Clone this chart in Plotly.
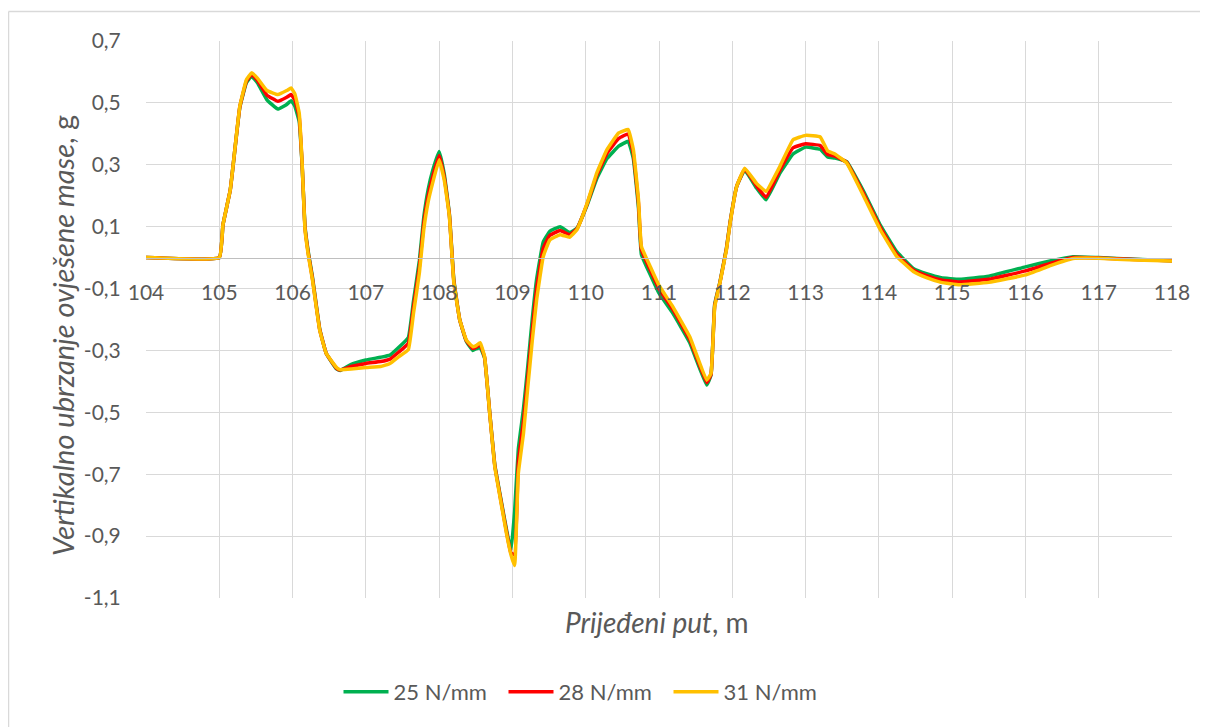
import plotly.graph_objects as go

# Travelled distance, m
x_m = [104.0, 105.0, 105.05, 105.15, 105.28, 105.37, 105.44, 105.52, 105.65, 105.8,
       105.92, 105.98, 106.03, 106.09, 106.13, 106.17, 106.22, 106.27, 106.37, 106.46,
       106.6, 106.65, 106.8, 107.0, 107.2, 107.33, 107.45, 107.58, 107.65, 107.73,
       107.79, 107.85, 107.91, 108.0, 108.07, 108.14, 108.2, 108.28, 108.37, 108.46,
       108.5, 108.56, 108.62, 108.69, 108.76, 108.85, 108.92, 108.98, 109.03, 109.08,
       109.15, 109.21, 109.27, 109.33, 109.42, 109.51, 109.65, 109.78, 109.88, 110.02,
       110.15, 110.29, 110.45, 110.58, 110.65, 110.72, 110.76, 110.88, 111.0, 111.19,
       111.42, 111.65, 111.71, 111.76, 111.83, 111.92, 111.97, 112.06, 112.17, 112.33,
       112.46, 112.65, 112.83, 113.0, 113.2, 113.3, 113.4, 113.56, 113.79, 114.02,
       114.24, 114.47, 114.65, 114.85, 115.1, 115.5, 116.0, 116.35, 116.65, 117.0,
       117.5, 118.0]

acc_25 = [0.0, 0.0, 0.106, 0.219, 0.485, 0.565, 0.586, 0.565, 0.51, 0.48,
          0.495, 0.507, 0.49, 0.44, 0.3, 0.1, 0.01, -0.06, -0.23, -0.31,
          -0.36, -0.365, -0.345, -0.331, -0.322, -0.315, -0.29, -0.258, -0.14, -0.01,
          0.13, 0.22, 0.28, 0.343, 0.27, 0.14, -0.07, -0.2, -0.27, -0.3,
          -0.295, -0.29, -0.325, -0.5, -0.67, -0.79, -0.88, -0.947, -0.82, -0.62,
          -0.49, -0.35, -0.2, -0.07, 0.05, 0.085, 0.1, 0.081, 0.095, 0.17,
          0.255, 0.32, 0.36, 0.376, 0.32, 0.16, 0.01, -0.055, -0.115, -0.18,
          -0.275, -0.412, -0.38, -0.15, -0.08, 0.03, 0.115, 0.23, 0.283, 0.225,
          0.187, 0.273, 0.335, 0.357, 0.35, 0.325, 0.322, 0.31, 0.215, 0.105,
          0.02, -0.035, -0.052, -0.065, -0.07, -0.06, -0.03, -0.01, 0.003, 0.0,
          -0.005, -0.01]

acc_28 = [0.0, 0.0, 0.106, 0.219, 0.487, 0.57, 0.592, 0.573, 0.525, 0.505,
          0.518, 0.527, 0.51, 0.455, 0.303, 0.095, 0.005, -0.065, -0.232, -0.31,
          -0.358, -0.363, -0.352, -0.342, -0.336, -0.328, -0.305, -0.277, -0.16, -0.03,
          0.11, 0.2, 0.26, 0.33, 0.26, 0.137, -0.075, -0.2, -0.268, -0.294,
          -0.29, -0.282, -0.322, -0.502, -0.673, -0.795, -0.887, -0.955, -0.96, -0.66,
          -0.53, -0.385, -0.235, -0.1, 0.03, 0.072, 0.088, 0.074, 0.093, 0.174,
          0.265, 0.337, 0.385, 0.4, 0.335, 0.175, 0.025, -0.04, -0.1, -0.168,
          -0.265, -0.404, -0.378, -0.155, -0.082, 0.028, 0.113, 0.23, 0.286, 0.232,
          0.195, 0.283, 0.355, 0.368, 0.362, 0.333, 0.328, 0.308, 0.208, 0.098,
          0.012, -0.04, -0.058, -0.072, -0.079, -0.07, -0.043, -0.018, 0.0, -0.001,
          -0.006, -0.01]

acc_31 = [0.0, 0.0, 0.106, 0.219, 0.489, 0.575, 0.597, 0.58, 0.54, 0.527,
          0.54, 0.548, 0.53, 0.468, 0.306, 0.09, 0.0, -0.07, -0.234, -0.31,
          -0.355, -0.362, -0.36, -0.355, -0.352, -0.342, -0.32, -0.297, -0.18, -0.05,
          0.09, 0.18, 0.24, 0.316, 0.25, 0.133, -0.08, -0.2, -0.266, -0.288,
          -0.285, -0.275, -0.32, -0.504, -0.677, -0.8, -0.893, -0.96, -0.995, -0.698,
          -0.569, -0.418, -0.27, -0.137, 0.003, 0.057, 0.074, 0.066, 0.09, 0.176,
          0.273, 0.349, 0.403, 0.414, 0.349, 0.187, 0.036, -0.029, -0.09, -0.159,
          -0.256, -0.396, -0.374, -0.159, -0.083, 0.025, 0.111, 0.23, 0.289, 0.24,
          0.214, 0.295, 0.381, 0.395, 0.39, 0.345, 0.335, 0.306, 0.2, 0.09,
          0.005, -0.045, -0.065, -0.08, -0.088, -0.08, -0.056, -0.025, -0.003, -0.002,
          -0.008, -0.011]

series_names = ["25 N/mm", "28 N/mm", "31 N/mm"]
series_colors = ["#00B050", "#FF0000", "#FFC000"]

y_tickvals = [0.7, 0.5, 0.3, 0.1, -0.1, -0.3, -0.5, -0.7, -0.9, -1.1]
y_ticktext = ["0,7", "0,5", "0,3", "0,1", "-0,1", "-0,3", "-0,5", "-0,7", "-0,9", "-1,1"]
x_tickvals = list(range(104, 119))
x_ticktext = [str(v) for v in x_tickvals]

assert len(x_m) == len(acc_25) == len(acc_28) == len(acc_31)

# page is offset by the default 8px body margin
OFF = 8
W, H = 1208 - OFF, 727 - OFF
L, T = 146 - OFF, 41 - OFF
R, B = 36, 129
pw, ph = W - L - R, H - T - B

def px(xp):  # page pixel -> paper
    return (xp - OFF - L) / pw

def py(yp):
    return (H - B - (yp - OFF)) / ph

fig = go.Figure()
for name, color, ys in zip(series_names, series_colors, [acc_25, acc_28, acc_31]):
    fig.add_trace(go.Scatter(x=x_m, y=ys, mode="lines", name=name,
                             line=dict(color=color, width=3.5, shape="spline", smoothing=0.3)))

font_fam = "Lato, 'Open Sans', sans-serif"
tick_col = "#595959"

fig.update_layout(
    width=W, height=H,
    margin=dict(l=L, r=R, t=T, b=B, pad=0),
    paper_bgcolor="white", plot_bgcolor="white",
    font=dict(family=font_fam, color=tick_col, size=21),
    showlegend=True,
    legend=dict(orientation="h", x=px(586), xanchor="center", y=py(692), yanchor="middle",
                font=dict(size=22, color=tick_col), itemwidth=45,
                entrywidth=105, entrywidthmode="pixels",
                bgcolor="rgba(0,0,0,0)"),
    xaxis=dict(range=[104, 118], tickvals=x_tickvals, ticktext=x_ticktext,
               showgrid=True, gridcolor="#d9d9d9", gridwidth=1,
               zeroline=False, showline=True, linecolor="#bfbfbf", linewidth=1,
               anchor="free", position=1.1 / 1.8,
               ticks="outside", ticklen=16, tickcolor="rgba(0,0,0,0)",
               tickfont=dict(size=21, color=tick_col)),
    yaxis=dict(range=[-1.1, 0.7], tickvals=y_tickvals, ticktext=y_ticktext,
               showgrid=True, gridcolor="#d9d9d9", gridwidth=1,
               zeroline=False, showline=False,
               ticks="outside", ticklen=20, tickcolor="rgba(0,0,0,0)",
               tickfont=dict(size=21, color=tick_col)),
    annotations=[
        dict(text="<i>Vertikalno ubrzanje ovješene mase</i>, g", xref="paper", yref="paper",
             x=px(62), y=py(336), xanchor="center", yanchor="middle", textangle=-90,
             showarrow=False, font=dict(size=29, color=tick_col)),
        dict(text="<i>Prijeđeni put</i>, m", xref="paper", yref="paper",
             x=px(657), y=py(622), xanchor="center", yanchor="middle",
             showarrow=False, font=dict(size=28, color=tick_col)),
    ],
    shapes=[
        dict(type="line", xref="paper", yref="paper", x0=px(8.5), x1=px(8.5),
             y0=py(11.5), y1=py(730), line=dict(color="#d9d9d9", width=1.5)),
        dict(type="line", xref="paper", yref="paper", x0=px(8.5), x1=px(1210),
             y0=py(11.5), y1=py(11.5), line=dict(color="#d9d9d9", width=1.5)),
    ],
)

fig.write_html("out.html")
